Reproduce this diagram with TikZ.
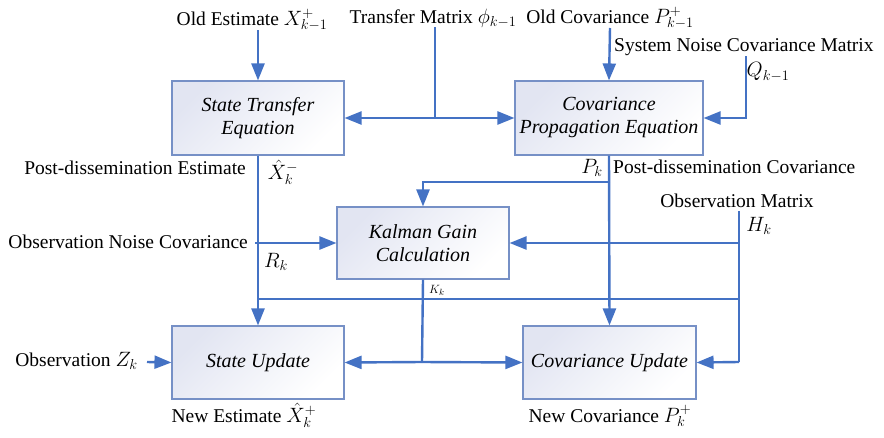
\documentclass[tikz,border=0pt]{standalone}
\usepackage{fontspec}
\setmainfont{Liberation Serif}
\usetikzlibrary{arrows.meta}
\definecolor{ln}{HTML}{4472C4}
\definecolor{bd}{HTML}{7690C6}
\definecolor{bx}{HTML}{E2E5F2}
\begin{document}
\begin{tikzpicture}[x=1pt,y=-1pt,
  font=\fontsize{19.5}{22}\selectfont,
  box/.style={draw=bd, line width=1.1pt, top color=bx, bottom color=white, shading angle=45,
    align=center, font=\fontsize{20}{23}\selectfont\itshape, inner sep=0pt},
  wire/.style={draw=ln, line width=2.4pt},
  arr/.style={wire, -{Triangle[length=17pt,width=13pt]}},
  lbl/.style={inner sep=0pt}]
\useasboundingbox (0,0) rectangle (884,437);
% boxes
\node[box, minimum width=172pt, minimum height=74pt] (st) at (258,118) {State Transfer\\Equation};
\node[box, minimum width=188pt, minimum height=74pt] (cp) at (609,118) {Covariance\\Propagation Equation};
\node[box, minimum width=172pt, minimum height=72pt] (kg) at (423,243) {Kalman Gain\\Calculation};
\node[box, minimum width=172pt, minimum height=73pt] (su) at (258,362.5) {State Update};
\node[box, minimum width=173pt, minimum height=73pt] (cu) at (609.5,362.5) {Covariance Update};
% coordinates
\coordinate (oe) at (258,30);
\coordinate (tm) at (435,27);
\coordinate (tmj) at (435,118);
\coordinate (oc) at (610,28);
\coordinate (qn) at (746,56);
\coordinate (pj) at (610,182);
\coordinate (rn) at (255,243);
\coordinate (hm) at (739,211);
\coordinate (hj) at (739,243);
\coordinate (hb) at (739,362);
\coordinate (a1) at (258,299);
\coordinate (a2) at (739,299);
\coordinate (kj) at (422,362);
\coordinate (zo) at (147,362);
% connectors
\draw[arr] (oe) -- (st.north);
\draw[wire] (tm) -- (tmj);
\draw[arr] (tmj) -- (st.east);
\draw[arr] (tmj) -- (cp.west);
\draw[arr] (oc) -- (cp.north);
\draw[arr] (qn) |- (cp.east);
\draw[arr] (st.south) -- (su.north);
\draw[arr] (cp.south) -- (cu.north);
\draw[arr] (pj) -| (kg.north);
\draw[arr] (rn) -- (kg.west);
\draw[wire] (hm) -- (hb);
\draw[arr] (hj) -- (kg.east);
\draw[arr] (hb) -- (cu.east);
\draw[wire] (a1) -- (a2);
\draw[wire] (kg.south) -- (kj);
\draw[arr] (kj) -- (su.east);
\draw[arr] (kj) -- (cu.west);
\draw[arr] (zo) -- (su.west);
% labels
\node[lbl] (t1) at (252,20) {Old Estimate $X^{+}_{k-1}$};
\node[lbl] (t2) at (433,18) {Transfer Matrix $\phi_{k-1}$};
\node[lbl] (t3) at (610,18) {Old Covariance $P^{+}_{k-1}$};
\node[lbl, anchor=west] (t4) at (614,47) {System Noise Covariance Matrix};
\node[lbl] (t5) at (768,72) {$Q_{k-1}$};
\node[lbl, anchor=east] (t6) at (246,168) {Post-dissemination Estimate};
\node[lbl] (t7) at (283,172) {$\hat{X}^{-}_{k}$};
\node[lbl] (t8) at (592,168) {$P_k$};
\node[lbl, anchor=west] (t9) at (613,167) {Post-dissemination Covariance};
\node[lbl] (t10) at (737,201) {Observation Matrix};
\node[lbl] (t11) at (759,226) {$H_k$};
\node[lbl, anchor=east] (t12) at (248,242) {Observation Noise Covariance};
\node[lbl] (t13) at (276,262) {$R_k$};
\node[lbl, font=\fontsize{13}{15}\selectfont] (t14) at (437,290) {$K_k$};
\node[lbl, anchor=east] (t15) at (138,361) {Observation $Z_k$};
\node[lbl] (t16) at (244,415) {New Estimate $\hat{X}^{+}_{k}$};
\node[lbl] (t17) at (610,416) {New Covariance $P^{+}_{k}$};
\end{tikzpicture}
\end{document}
